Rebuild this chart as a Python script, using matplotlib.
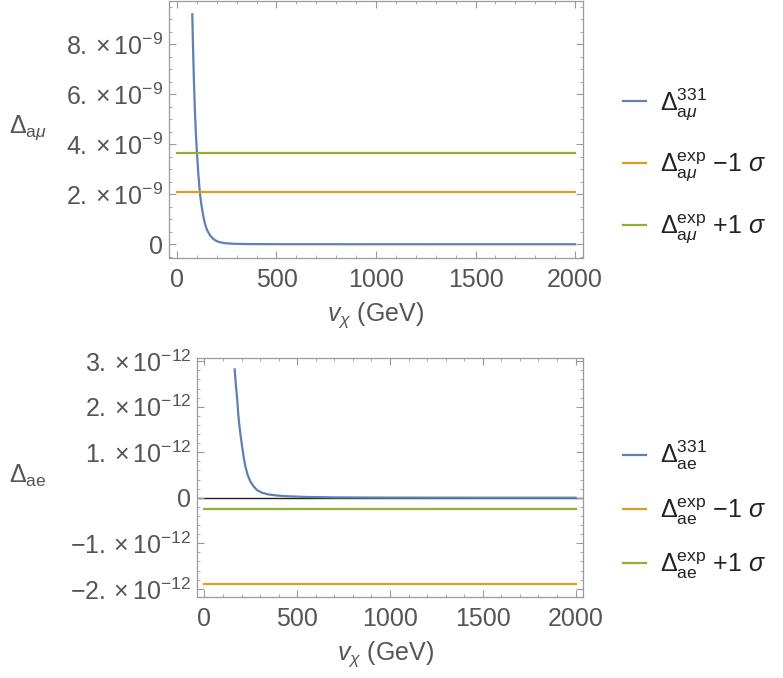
import matplotlib
matplotlib.use("Agg")
import matplotlib.pyplot as plt
from matplotlib.ticker import FixedLocator, FixedFormatter, MultipleLocator

plt.rcParams['font.family'] = ['Liberation Sans', 'DejaVu Sans']
plt.rcParams['mathtext.fontset'] = 'custom'
plt.rcParams['mathtext.rm'] = 'Liberation Sans'
plt.rcParams['mathtext.it'] = 'Liberation Sans:italic'
plt.rcParams['mathtext.bf'] = 'Liberation Sans:bold'

# --- data ---
# top panel: Delta a_mu (units of 1e-9)
mu_x = [77, 80, 85, 90, 95, 100, 107, 115, 121, 127, 133, 140, 150, 165, 180,
        195, 207, 225, 240, 265, 290, 350, 440, 600, 1000, 1500, 2000]
mu_y = [9.2, 8.1, 6.6, 5.4, 4.45, 3.7, 2.85, 2.07, 1.68, 1.37, 1.10, 0.84,
        0.59, 0.37, 0.23, 0.145, 0.1, 0.065, 0.045, 0.028, 0.018, 0.008,
        0.004, 0.0015, 0.0005, 0.0002, 0.0001]
mu_minus = 2.07
mu_plus = 3.65

# bottom panel: Delta a_e (units of 1e-12)
e_x = [163, 170, 176, 182, 188, 196, 204, 212, 220, 233, 247, 265, 283, 310,
       346, 390, 435, 543, 700, 1000, 1500, 2000]
e_y = [2.82, 2.45, 2.2, 1.85, 1.6, 1.33, 1.1, 0.88, 0.7, 0.5, 0.36, 0.25,
       0.17, 0.11, 0.072, 0.05, 0.035, 0.018, 0.008, 0.003, 0.001, 0.0005]
e_minus = -1.90
e_plus = -0.25

x_ticks = [0, 500, 1000, 1500, 2000]
x_labels = ['0', '500', '1000', '1500', '2000']
mu_yticks = [0, 2, 4, 6, 8]
mu_ylabels = ['0', r'$2.\times10^{-9}$', r'$4.\times10^{-9}$',
              r'$6.\times10^{-9}$', r'$8.\times10^{-9}$']
e_yticks = [-2, -1, 0, 1, 2, 3]
e_ylabels = [r'$-2.\times10^{-12}$', r'$-1.\times10^{-12}$', '0',
             r'$1.\times10^{-12}$', r'$2.\times10^{-12}$', r'$3.\times10^{-12}$']

blue = '#5E81B5'
orange = '#E19C24'
green = '#8FB032'
frame_c = '#9a9a9a'
text_c = '#555555'
dark = '#222222'

W, H = 783, 678
fig = plt.figure(figsize=(W / 100, H / 100), dpi=100)


def px_axes(l, t, r, b):
    return fig.add_axes([l / W, 1 - b / H, (r - l) / W, (b - t) / H])


def style(ax):
    for s in ax.spines.values():
        s.set_color(frame_c)
        s.set_linewidth(0.9)
    ax.tick_params(which='both', direction='in', top=True, right=True,
                   color=frame_c, labelcolor=text_c)
    ax.tick_params(which='major', length=5, width=0.8)
    ax.tick_params(which='minor', length=2.5, width=0.6)
    ax.tick_params(axis='x', labelsize=18, pad=7)
    ax.tick_params(axis='y', labelsize=18, pad=4)
    ax.set_xlim(-40, 2040)
    ax.xaxis.set_major_locator(FixedLocator(x_ticks))
    ax.xaxis.set_major_formatter(FixedFormatter(x_labels))
    ax.xaxis.set_minor_locator(MultipleLocator(100))


# top panel
ax1 = px_axes(169, 1, 583, 258)
ax1.plot(mu_x, mu_y, color=blue, lw=1.6, label=r'$\Delta^{331}_{\mathrm{a}\mu}$')
ax1.plot([0, 2000], [mu_minus, mu_minus], color=orange, lw=1.6,
         label=r'$\Delta^{\mathrm{exp}}_{\mathrm{a}\mu}\ \mathrm{-1}\ \sigma$')
ax1.plot([0, 2000], [mu_plus, mu_plus], color=green, lw=1.6,
         label=r'$\Delta^{\mathrm{exp}}_{\mathrm{a}\mu}\ \mathrm{+1}\ \sigma$')
style(ax1)
ax1.set_ylim(-0.55, 9.73)
ax1.yaxis.set_major_locator(FixedLocator(mu_yticks))
ax1.yaxis.set_major_formatter(FixedFormatter(mu_ylabels))
ax1.yaxis.set_minor_locator(MultipleLocator(0.5))

# bottom panel
ax2 = px_axes(197, 358, 583, 597)
ax2.axhline(0, color='#222222', lw=1.0, zorder=1)
ax2.plot(e_x, e_y, color=blue, lw=1.6, label=r'$\Delta^{331}_{\mathrm{ae}}$', zorder=2)
ax2.plot([0, 2000], [e_minus, e_minus], color=orange, lw=1.6,
         label=r'$\Delta^{\mathrm{exp}}_{\mathrm{ae}}\ \mathrm{-1}\ \sigma$')
ax2.plot([0, 2000], [e_plus, e_plus], color=green, lw=1.6,
         label=r'$\Delta^{\mathrm{exp}}_{\mathrm{ae}}\ \mathrm{+1}\ \sigma$')
style(ax2)
ax2.set_ylim(-2.18, 3.07)
ax2.yaxis.set_major_locator(FixedLocator(e_yticks))
ax2.yaxis.set_major_formatter(FixedFormatter(e_ylabels))
ax2.yaxis.set_minor_locator(MultipleLocator(0.2))

# axis labels
fig.text(375 / W, 1 - 315 / H, r'$v_{\chi}$ (GeV)', ha='center', va='center',
         fontsize=18, color=text_c)
fig.text(385 / W, 1 - 654 / H, r'$v_{\chi}$ (GeV)', ha='center', va='center',
         fontsize=18, color=text_c)
fig.text(9 / W, 1 - 133 / H, r'$\Delta_{\mathrm{a}\mu}$', ha='left', va='baseline',
         fontsize=18, color=text_c)
fig.text(9 / W, 1 - 483 / H, r'$\Delta_{\mathrm{ae}}$', ha='left', va='baseline',
         fontsize=18, color=text_c)

# legends
for ax, yc, sp in [(ax1, 166, 1.15), (ax2, 510, 0.95)]:
    ax.legend(loc='center left', bbox_to_anchor=(623 / W, 1 - yc / H),
              bbox_transform=fig.transFigure, frameon=False, fontsize=18,
              handlelength=0.9, handletextpad=0.6, labelspacing=sp,
              borderpad=0, borderaxespad=0, labelcolor=dark)

fig.savefig('out.png', dpi=100)
